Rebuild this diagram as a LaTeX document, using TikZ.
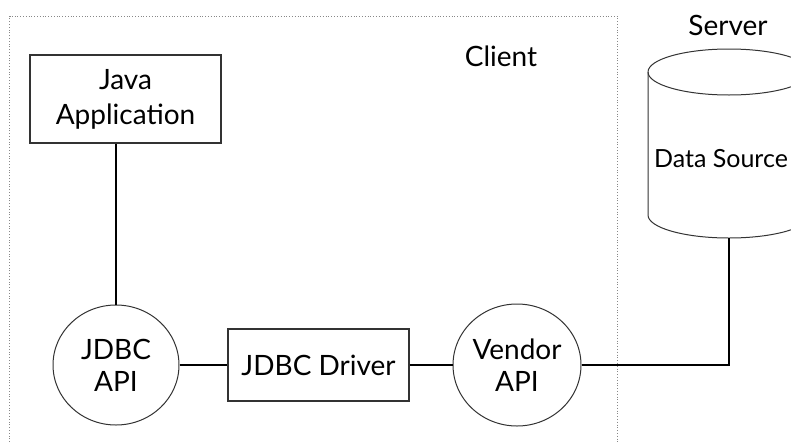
\documentclass[tikz,border=0pt]{standalone}
\usepackage{fontspec}
\setmainfont{Lato}
\usetikzlibrary{shapes.geometric}
\definecolor{edge}{HTML}{333333}
\definecolor{dots}{HTML}{888888}
\begin{document}
\begin{tikzpicture}[x=1pt,y=-1pt,
  lbl/.style={font=\fontsize{28}{32}\selectfont,inner sep=0pt},
  boxnode/.style={draw=edge,line width=1.2pt,rectangle,align=center,inner sep=0pt,font=\fontsize{28}{35}\selectfont},
  apinode/.style={draw=edge,line width=1pt,ellipse,align=center,inner sep=0pt,font=\fontsize{28}{32}\selectfont},
  link/.style={line width=1.1pt,black},
  thicklink/.style={line width=2pt,black}]
\useasboundingbox (0,0) rectangle (791,442);
\clip (0,0) rectangle (791,442);
% client region
\draw[dots,line width=0.8pt,dotted] (9.5,442) -- (9.5,16) -- (617,16) -- (617,442);
\node[lbl] (client) at (501,56) {Client};
\node[lbl,anchor=base] (server) at (728,35) {Server};
% nodes
\node[boxnode,minimum width=191pt,minimum height=88pt] (java) at (125.5,99) {Java\\Application};
\node[apinode,minimum width=126pt,minimum height=120pt] (api) at (116,365) {JDBC\\API};
\node[boxnode,minimum width=181pt,minimum height=72pt] (driver) at (318.5,365) {JDBC Driver};
\node[apinode,minimum width=128pt,minimum height=122pt] (vendor) at (517,365) {Vendor\\API};
% cylinder
\draw[edge,line width=1pt,fill=white] (648,72) -- (648,215) arc[start angle=180,end angle=0,x radius=81,y radius=23] -- (810,72);
\draw[edge,line width=1pt] (729,72) ellipse[x radius=81,y radius=23];
\node[inner sep=0pt,font=\fontsize{25}{30}\selectfont,anchor=base] (ds) at (721,167) {Data Source};
\coordinate (dsbot) at (729,238);
\coordinate (corner) at (729,365);
% connectors
\draw[link] (java.south -| api.north) -- (api.north);
\draw[link] (api.east) -- (driver.west);
\draw[link] (driver.east) -- (vendor.west);
\draw[thicklink] (vendor.east) -- (corner) -- (dsbot);
\end{tikzpicture}
\end{document}
